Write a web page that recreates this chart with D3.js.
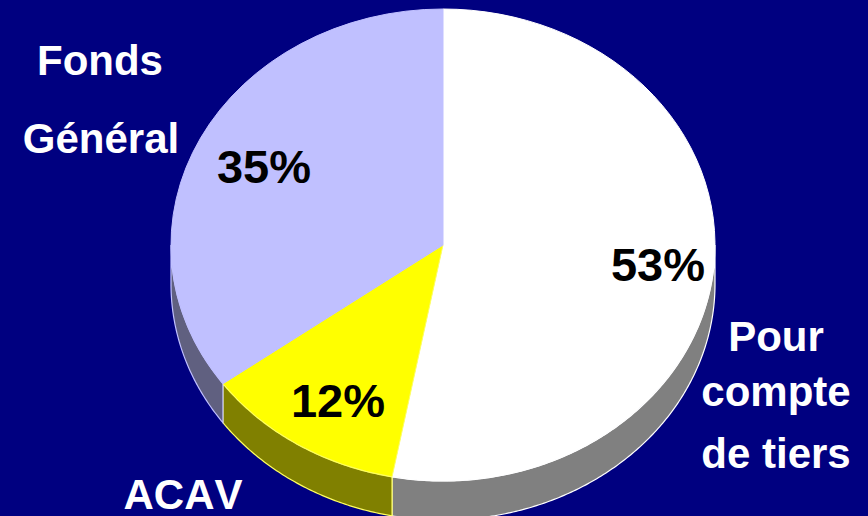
<!DOCTYPE html>
<html>
<head>
<meta charset="utf-8">
<script src="https://cdnjs.cloudflare.com/ajax/libs/d3/7.8.5/d3.min.js"></script>
<style>
  html, body { margin: 0; padding: 0; background: #000080; overflow: hidden; }
  text { font-family: "Liberation Sans", Arial, sans-serif; font-weight: bold; font-kerning: none; }
</style>
</head>
<body>
<div id="chart"></div>
<script>
// clockwise from 12 o'clock, same order as the picture
var categories = ['Pour compte de tiers', 'ACAV', 'Fonds Général'];
var shares = [53, 12, 35];
var percentLabels = ['53%', '12%', '35%'];
var topColors = ['#ffffff', '#ffff00', '#c0c0ff'];
var wallColors = ['#808080', '#808000', '#606080'];
var edgeColors = ['#ffffff', '#ffff60', '#c0c0ff'];

var width = 868, height = 516;
var cx = 443, cy = 245;
var rx = 272, ry = 236;
var depth = 39;

var svg = d3.select('#chart').append('svg')
  .attr('width', width)
  .attr('height', height)
  .style('display', 'block');

svg.append('rect').attr('width', width).attr('height', height).attr('fill', '#000080');

var data = categories.map(function(c, i) {
  return {label: c, count: shares[i], top: topColors[i], wall: wallColors[i], edge: edgeColors[i], text: percentLabels[i]};
});

var pie = d3.pie().value(function(d) { return d.count; }).sort(null);
var arcs = pie(data);

// side of the disc, only the front half shows
var wall = d3.area()
  .x(function(a) { return cx + rx * Math.sin(a); })
  .y0(function(a) { return cy - ry * Math.cos(a); })
  .y1(function(a) { return cy - ry * Math.cos(a) + depth; });

svg.append('g').selectAll('path')
  .data(arcs)
  .enter()
  .append('path')
  .attr('d', function(d) {
    var from = Math.max(d.startAngle, Math.PI / 2);
    var to = Math.min(d.endAngle, Math.PI * 3 / 2);
    return wall(d3.range(from, to, 0.01).concat([to]));
  })
  .attr('fill', function(d) { return d.data.wall; })
  .attr('stroke', function(d) { return d.data.edge; })
  .attr('stroke-width', 1.2);

// top of the disc, a circle squashed into an ellipse
var arc = d3.arc().innerRadius(0).outerRadius(rx);

svg.append('g')
  .attr('transform', 'translate(' + cx + ',' + cy + ') scale(1,' + (ry / rx) + ')')
  .selectAll('path')
  .data(arcs)
  .enter()
  .append('path')
  .attr('d', arc)
  .attr('fill', function(d) { return d.data.top; })
  .attr('stroke', function(d) { return d.data.edge; })
  .attr('stroke-width', 1)
  .attr('vector-effect', 'non-scaling-stroke');

// percentages sit where the original author dragged them
var percentSpots = [[658, 281], [338, 417], [264, 183]];
svg.append('g').selectAll('text')
  .data(arcs)
  .enter()
  .append('text')
  .attr('x', function(d, i) { return percentSpots[i][0]; })
  .attr('y', function(d, i) { return percentSpots[i][1]; })
  .attr('text-anchor', 'middle')
  .attr('font-size', 47)
  .attr('fill', '#000000')
  .text(function(d) { return d.data.text; });

var outerLines = ['Fonds', 'Général', 'ACAV', 'Pour', 'compte', 'de tiers'];
var outerSpots = [[100, 75], [101, 153], [183, 509], [776, 351], [776, 406], [776, 468]];
svg.append('g').selectAll('text')
  .data(outerLines)
  .enter()
  .append('text')
  .attr('x', function(d, i) { return outerSpots[i][0]; })
  .attr('y', function(d, i) { return outerSpots[i][1]; })
  .attr('text-anchor', 'middle')
  .attr('font-size', 42)
  .attr('fill', '#ffffff')
  .text(function(d) { return d; });
</script>
</body>
</html>
